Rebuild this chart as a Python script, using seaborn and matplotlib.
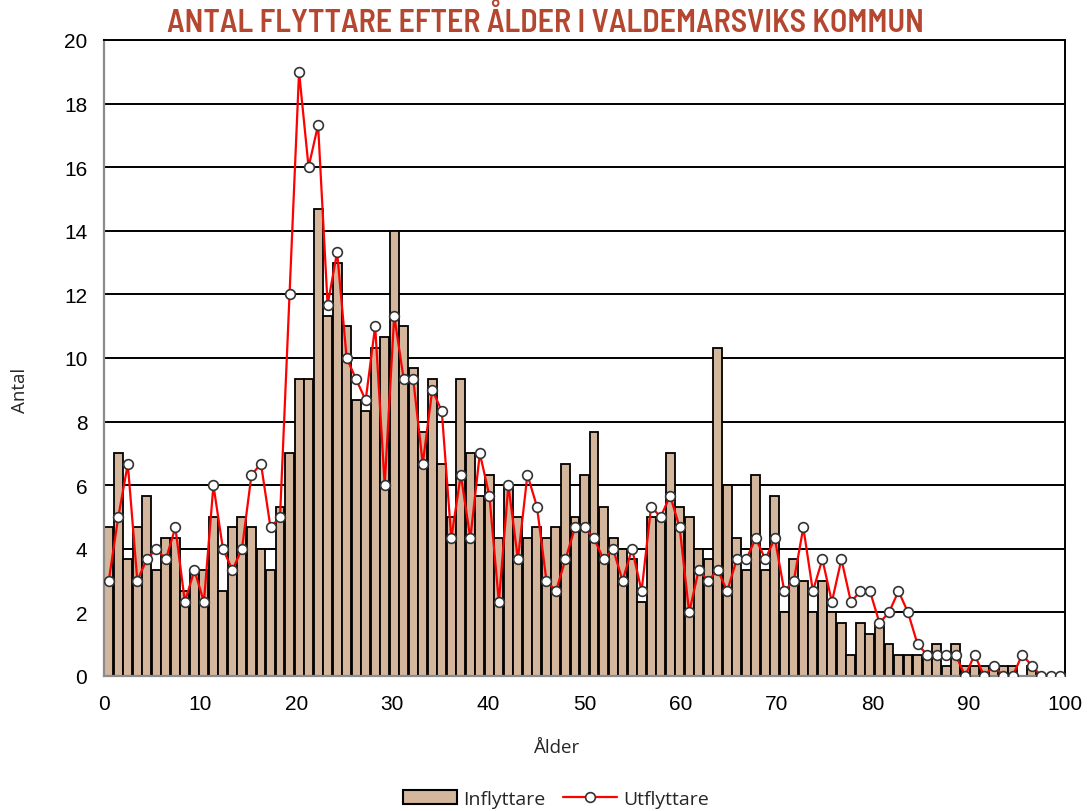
import numpy as np
import matplotlib
matplotlib.use("Agg")
import matplotlib.pyplot as plt
import seaborn as sns
from matplotlib.patches import Patch
from matplotlib.lines import Line2D

# Ålder 0-100
ages = list(range(101))

inflyttare = [
    4.67, 7.00, 3.67, 4.67, 5.67, 3.33, 4.33, 4.33, 2.67, 3.33,
    3.33, 5.00, 2.67, 4.67, 5.00, 4.67, 4.00, 3.33, 5.33, 7.00,
    9.33, 9.33, 14.67, 11.33, 13.00, 11.00, 8.67, 8.33, 10.33, 10.67,
    14.00, 11.00, 9.67, 7.67, 9.33, 6.67, 5.00, 9.33, 7.00, 5.67,
    6.33, 4.33, 6.00, 5.00, 4.33, 4.67, 4.33, 4.67, 6.67, 5.00,
    6.33, 7.67, 5.33, 4.33, 4.00, 3.67, 2.33, 5.00, 5.00, 7.00,
    5.33, 5.00, 4.00, 3.67, 10.33, 6.00, 4.33, 3.33, 6.33, 3.33,
    5.67, 2.00, 3.67, 3.00, 2.00, 3.00, 2.00, 1.67, 0.67, 1.67,
    1.33, 1.67, 1.00, 0.67, 0.67, 0.67, 0.67, 1.00, 0.33, 1.00,
    0.33, 0.33, 0.33, 0.33, 0.33, 0.33, 0.00, 0.33, 0.00, 0.00,
    0.00,
]

utflyttare = [
    3.00, 5.00, 6.67, 3.00, 3.67, 4.00, 3.67, 4.67, 2.33, 3.33,
    2.33, 6.00, 4.00, 3.33, 4.00, 6.33, 6.67, 4.67, 5.00, 12.00,
    19.00, 16.00, 17.33, 11.67, 13.33, 10.00, 9.33, 8.67, 11.00, 6.00,
    11.33, 9.33, 9.33, 6.67, 9.00, 8.33, 4.33, 6.33, 4.33, 7.00,
    5.67, 2.33, 6.00, 3.67, 6.33, 5.33, 3.00, 2.67, 3.67, 4.67,
    4.67, 4.33, 3.67, 4.00, 3.00, 4.00, 2.67, 5.33, 5.00, 5.67,
    4.67, 2.00, 3.33, 3.00, 3.33, 2.67, 3.67, 3.67, 4.33, 3.67,
    4.33, 2.67, 3.00, 4.67, 2.67, 3.67, 2.33, 3.67, 2.33, 2.67,
    2.67, 1.67, 2.00, 2.67, 2.00, 1.00, 0.67, 0.67, 0.67, 0.67,
    0.00, 0.67, 0.00, 0.33, 0.00, 0.00, 0.67, 0.33, 0.00, 0.00,
    0.00,
]

x_labels = list(range(0, 101, 10))
y_ticks = list(range(0, 21, 2))

BAR_COLOR = "#D3B69C"
TITLE_COLOR = "#B5462F"
TICK_FONT = ["Liberation Sans", "DejaVu Sans"]
LABEL_FONT = ["Open Sans", "DejaVu Sans"]

sns.set_theme(style="white")
plt.rcParams["font.family"] = TICK_FONT

fig = plt.figure(figsize=(10.9, 8.12), dpi=100)
ax = fig.add_axes([104 / 1090, 1 - 677 / 812, (1065 - 104) / 1090, (677 - 41) / 812])

sns.barplot(x=ages, y=inflyttare, native_scale=True, width=0.94, color=BAR_COLOR,
            saturation=1, edgecolor="black", linewidth=1.3, ax=ax, zorder=2)
sns.lineplot(x=ages, y=utflyttare, color="red", lw=1.6, marker="o", markersize=7,
             markerfacecolor="white", markeredgecolor="#333333", markeredgewidth=1.2,
             ax=ax, zorder=3)

ax.set_xlim(-0.5, 100.5)
ax.set_ylim(0, 20)
ax.set_yticks(y_ticks)
# labels 0..100 sit on the full width of the 101 categories
ax.set_xticks([-0.5 + t * 1.01 for t in x_labels])
ax.set_xticklabels([str(t) for t in x_labels])
ax.set_xticks(np.arange(-0.5, 101, 1), minor=True)
ax.tick_params(axis="x", which="major", length=0, pad=13, labelsize=15, labelcolor="black")
ax.tick_params(axis="x", which="minor", length=5, color="#8C8C8C", width=1.2, direction="out")
ax.tick_params(axis="y", which="major", length=5, color="#8C8C8C", width=1.2,
               direction="out", pad=7, labelsize=15, labelcolor="black")
ax.set_xlabel("")
ax.set_ylabel("")

ax.set_axisbelow(True)
ax.yaxis.grid(True, color="black", lw=1.4)
ax.xaxis.grid(False)
for side in ["left", "bottom"]:
    ax.spines[side].set_color("#8C8C8C")
    ax.spines[side].set_linewidth(1.6)
for side in ["right", "top"]:
    ax.spines[side].set_color("black")
    ax.spines[side].set_linewidth(1.4)

fig.text(0.5, 1 - 21 / 812, "ANTAL FLYTTARE EFTER ÅLDER I VALDEMARSVIKS KOMMUN",
         ha="center", va="center", fontsize=23, fontweight=600,
         family=["Barlow Semi Condensed", "Liberation Sans Narrow", "DejaVu Sans"],
         color=TITLE_COLOR)
fig.text(20 / 1090, 1 - 390 / 812, "Antal", rotation=90, ha="center", va="center",
         fontsize=13.5, family=LABEL_FONT)
fig.text(557 / 1090, 1 - 748 / 812, "Ålder", ha="center", va="center",
         fontsize=13.5, family=LABEL_FONT)

handles = [
    Patch(facecolor=BAR_COLOR, edgecolor="black", linewidth=1.5, label="Inflyttare"),
    Line2D([0], [0], color="red", lw=1.6, marker="o", markersize=7,
           markerfacecolor="white", markeredgecolor="#333333", markeredgewidth=1.2,
           label="Utflyttare"),
]
fig.legend(handles=handles, loc="center", bbox_to_anchor=(556 / 1090, 1 - 800 / 812),
           ncol=2, frameon=False, handlelength=2.8, handletextpad=0.3, columnspacing=0.9,
           prop={"family": LABEL_FONT, "size": 14})

fig.savefig("out.png", dpi=100)
